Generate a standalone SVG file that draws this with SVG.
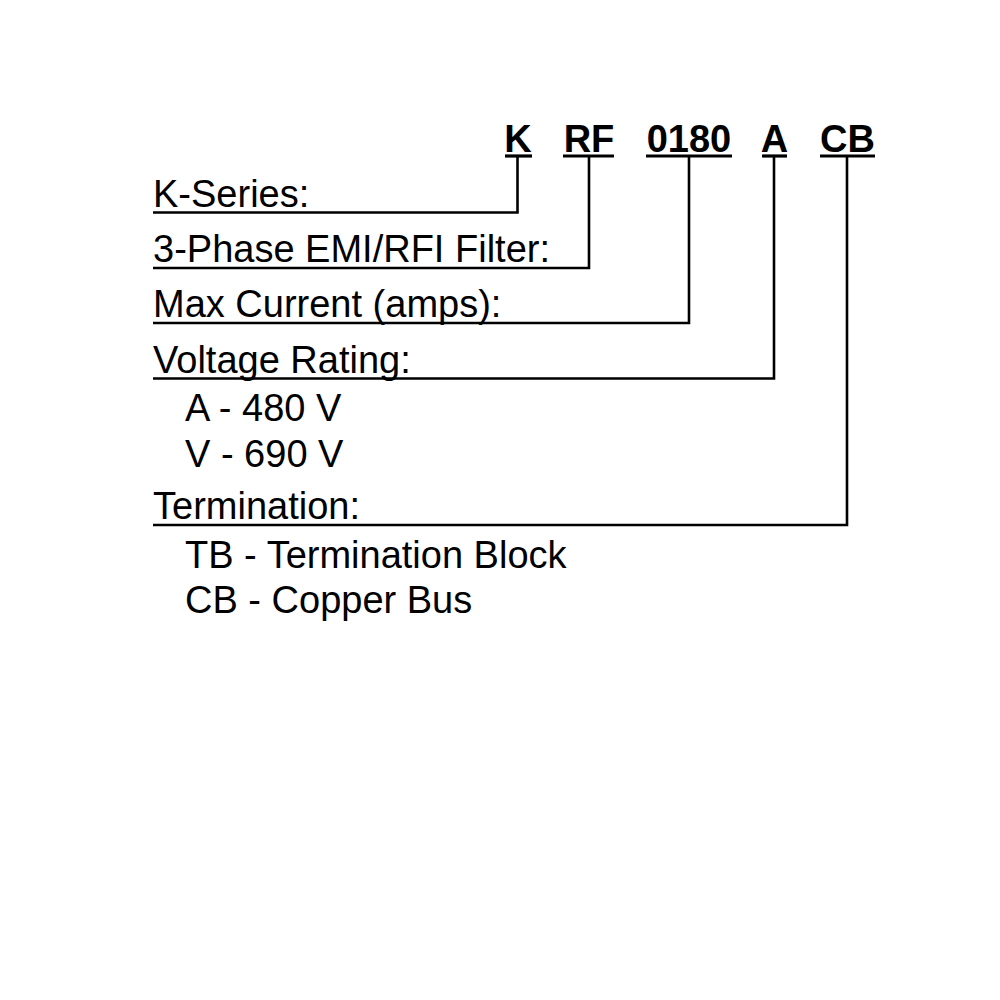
<svg xmlns="http://www.w3.org/2000/svg" width="1000" height="1000" viewBox="0 0 1000 1000">
<style>
.code{font-family:"Liberation Sans",Arial,sans-serif;font-size:38px;font-weight:bold;fill:#000;text-anchor:middle}
.lab{font-family:"Liberation Sans",Arial,sans-serif;font-size:38px;fill:#000}
.ln{fill:none;stroke:#000;stroke-width:2.6;stroke-linejoin:miter;stroke-linecap:butt}
.ul{stroke:#000;stroke-width:3.2}
</style>
<rect width="1000" height="1000" fill="#fff"/>
<g id="codes">
<g id="code-K"><text class="code" x="518" y="152">K</text><line class="ul" x1="505" y1="156" x2="532" y2="156"/></g>
<g id="code-RF"><text class="code" x="589" y="152">RF</text><line class="ul" x1="563" y1="156" x2="614" y2="156"/></g>
<g id="code-0180"><text class="code" x="689" y="152">0180</text><line class="ul" x1="646" y1="156" x2="732" y2="156"/></g>
<g id="code-A"><text class="code" x="774.5" y="152">A</text><line class="ul" x1="762" y1="156" x2="787" y2="156"/></g>
<g id="code-CB"><text class="code" x="847.5" y="152">CB</text><line class="ul" x1="820" y1="156" x2="875" y2="156"/></g>
</g>
<g id="labels">
<g id="label-series"><text class="lab" x="153" y="207">K-Series:</text></g>
<g id="label-phase"><text class="lab" x="153" y="262">3-Phase EMI/RFI Filter:</text></g>
<g id="label-current"><text class="lab" x="153" y="317">Max Current (amps):</text></g>
<g id="label-voltage"><text class="lab" x="153" y="373">Voltage Rating:</text>
<text class="lab" x="185" y="421">A - 480 V</text>
<text class="lab" x="185" y="467">V - 690 V</text></g>
<g id="label-termination"><text class="lab" x="153" y="519">Termination:</text>
<text class="lab" x="185" y="568">TB - Termination Block</text>
<text class="lab" x="185" y="613">CB - Copper Bus</text></g>
</g>
<g id="connectors">
<path class="ln" d="M153 212.5 H517.5 V156"/>
<path class="ln" d="M153 268 H589 V156"/>
<path class="ln" d="M153 323 H689 V156"/>
<path class="ln" d="M153 378.5 H774 V156"/>
<path class="ln" d="M153 525 H847 V156"/>
</g>
</svg>
